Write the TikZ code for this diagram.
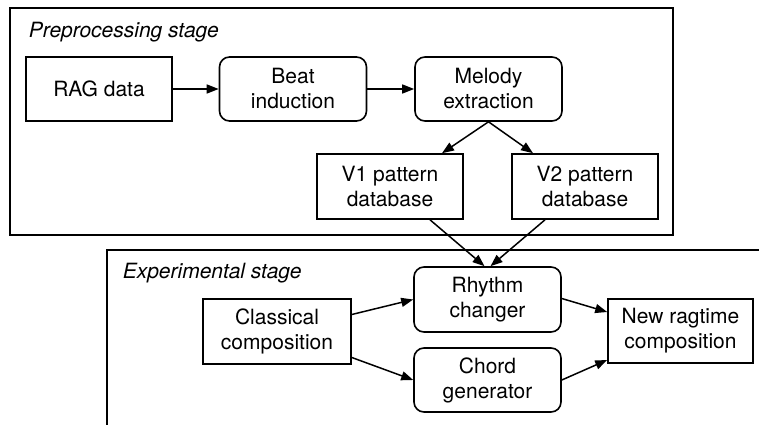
\documentclass[tikz,border=0pt]{standalone}
\usepackage{fontspec}
\setmainfont{TeX Gyre Heros}
\usetikzlibrary{arrows.meta,calc}

\begin{document}
\begin{tikzpicture}[x=1pt,y=-1pt,
  line width=1.6pt,
  every node/.style={font=\fontsize{21}{25}\selectfont, align=center, inner sep=0pt},
  sharpbox/.style={draw, line width=1.6pt, minimum width=146pt, minimum height=64pt},
  roundbox/.style={draw, line width=1.6pt, rounded corners=10pt, minimum width=147pt, minimum height=64pt},
  stagelabel/.style={font=\fontsize{21}{25}\selectfont\itshape, anchor=base west},
  flow/.style={-{Triangle[length=12pt,width=9pt]}, line width=1.5pt}]

\useasboundingbox (0,0) rectangle (759,425);

% stage frames
\draw (10,8) rectangle (673,235);
\draw (759,250) -- (107,250) -- (107,425);
\node[stagelabel] (prelab) at (28,38) {Preprocessing stage};
\node[stagelabel] (explab) at (122,278) {Experimental stage};

% preprocessing nodes
\node[sharpbox] (rag) at (99,89) {RAG data};
\node[roundbox] (beat) at (293,89) {Beat\\induction};
\node[roundbox] (mel) at (488.5,89) {Melody\\extraction};
\node[sharpbox, minimum height=65pt] (v1) at (390,186.5) {V1 pattern\\database};
\node[sharpbox, minimum height=65pt] (v2) at (585,186.5) {V2 pattern\\database};

% experimental nodes
\node[roundbox, minimum height=65pt] (rhy) at (487.5,299.5) {Rhythm\\changer};
\node[roundbox] (chord) at (487.5,380) {Chord\\generator};
\node[sharpbox, minimum width=148pt, minimum height=65pt] (cls) at (277,331.5) {Classical\\composition};
\node[sharpbox, minimum width=145pt] (new) at (680.5,331) {New ragtime\\composition};

% connectors
\draw[flow] (rag) -- (beat);
\draw[flow] (beat) -- (mel);
\draw[flow] (mel.south) -- ([xshift=52pt]v1.north);
\draw[flow] (mel.south) -- ([xshift=-52pt]v2.north);
\draw[flow] ([xshift=40pt]v1.south) -- ([xshift=-3pt]rhy.north);
\draw[flow] ([xshift=-40pt]v2.south) -- ([xshift=3pt]rhy.north);
\draw[flow] ([yshift=17pt]cls.east) -- (rhy.west);
\draw[flow] ([yshift=-26pt]cls.east) -- (chord.west);
\draw[flow] ([yshift=1pt]rhy.east) -- ([yshift=19pt]new.west);
\draw[flow] (chord.east) -- ([yshift=-29pt]new.west);
\end{tikzpicture}
\end{document}
